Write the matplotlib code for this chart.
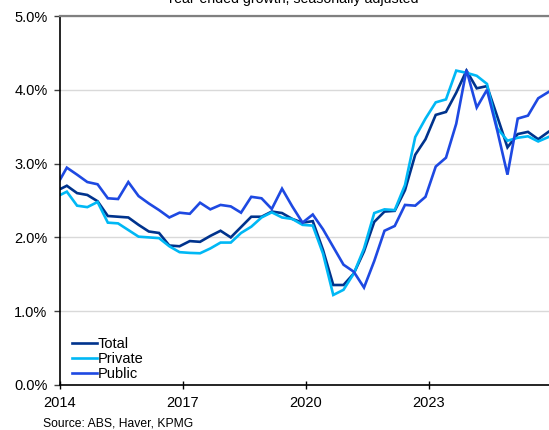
import matplotlib
matplotlib.use("Agg")
import matplotlib.pyplot as plt
import numpy as np
import pandas as pd
from matplotlib.ticker import FuncFormatter

plt.rcParams["font.family"] = ["Liberation Sans", "DejaVu Sans"]

# quarterly, Dec-2013 to Dec-2025, year-ended growth (%)
quarters = pd.period_range("2013Q4", "2025Q4", freq="Q")

total = [2.63, 2.70, 2.60, 2.575, 2.49, 2.29, 2.28, 2.27, 2.17, 2.08,
         2.06, 1.89, 1.88, 1.95, 1.94, 2.02, 2.09, 2.00, 2.14, 2.28,
         2.28, 2.35, 2.33, 2.25, 2.20, 2.22, 1.83, 1.355, 1.355, 1.51,
         1.81, 2.21, 2.35, 2.36, 2.64, 3.12, 3.33, 3.66, 3.70, 3.96,
         4.26, 4.02, 4.05, 3.64, 3.22, 3.40, 3.43, 3.33, 3.43]
private = [2.55, 2.62, 2.43, 2.41, 2.48, 2.20, 2.19, 2.10, 2.01, 2.00,
           1.99, 1.88, 1.80, 1.79, 1.785, 1.85, 1.93, 1.93, 2.06, 2.145,
           2.27, 2.34, 2.27, 2.25, 2.17, 2.16, 1.78, 1.22, 1.29, 1.51,
           1.85, 2.33, 2.38, 2.37, 2.71, 3.36, 3.61, 3.83, 3.87, 4.26,
           4.23, 4.19, 4.08, 3.48, 3.31, 3.35, 3.37, 3.30, 3.36]
public = [2.70, 2.945, 2.85, 2.75, 2.72, 2.53, 2.52, 2.75, 2.56, 2.46,
          2.37, 2.27, 2.335, 2.32, 2.47, 2.38, 2.44, 2.42, 2.335, 2.55,
          2.53, 2.385, 2.66, 2.42, 2.20, 2.31, 2.11, 1.87, 1.63, 1.535,
          1.32, 1.68, 2.09, 2.155, 2.44, 2.43, 2.55, 2.96, 3.08, 3.54,
          4.27, 3.76, 4.00, 3.45, 2.85, 3.61, 3.65, 3.885, 3.97]

series = [("Total", total, "#00338D"),
          ("Private", private, "#00B8F5"),
          ("Public", public, "#1E49E2")]

year_ticks = [2014, 2017, 2020, 2023]

# place each quarter at its last month
x = np.array([q.year + (q.quarter * 3 - 1) / 12 for q in quarters])

fig = plt.figure(figsize=(5.49, 4.30), dpi=100)
ax = fig.add_axes([60 / 549, 1 - 385 / 430, 489 / 549, 369 / 430])

for name, vals, color in series:
    ax.plot(x, vals, color=color, lw=1.9, label=name, solid_joinstyle="miter")

ax.set_xlim(2014, 2025.93)
ax.set_ylim(0, 5)
ax.set_yticks(np.arange(0, 5.01, 1))
ax.yaxis.set_major_formatter(FuncFormatter(lambda v, _: f"{v:.1f}%"))
ax.set_xticks(year_ticks)
ax.set_xticklabels([str(y) for y in year_ticks])

ax.grid(axis="y", color="#d9d9d9", lw=1.0)
ax.set_axisbelow(True)
ax.spines["right"].set_visible(False)
ax.spines["top"].set_color("#808080")
ax.spines["top"].set_linewidth(1.6)
for side in ["left", "bottom"]:
    ax.spines[side].set_color("black")
    ax.spines[side].set_linewidth(1.2)

ax.tick_params(axis="y", direction="out", length=4, width=1, color="#404040",
               labelsize=10.5, pad=5)
ax.tick_params(axis="x", direction="inout", length=6, width=1, color="black",
               labelsize=10.5, pad=5)

ax.legend(loc="lower left", bbox_to_anchor=(0.024, 0.01), frameon=False,
          fontsize=10.5, handlelength=1.7, handletextpad=0.1,
          labelspacing=0.08, borderpad=0, borderaxespad=0)

fig.text(292 / 549, 1 - 3 / 430, "Year-ended growth, seasonally adjusted",
         ha="center", va="baseline", fontsize=10.2)
fig.text(43 / 549, 1 - 424 / 430, "Source: ABS, Haver, KPMG",
         ha="left", va="center", fontsize=8.7)

fig.savefig("out.png", dpi=100)
